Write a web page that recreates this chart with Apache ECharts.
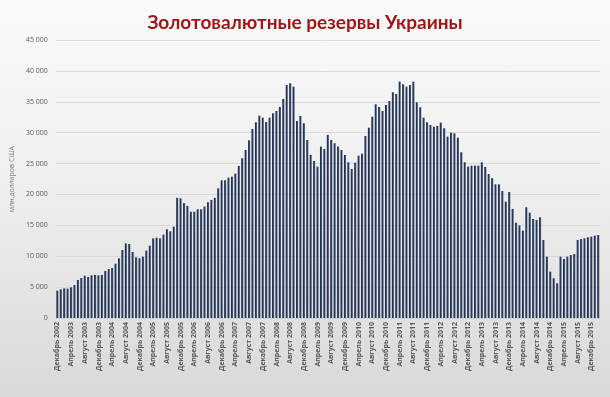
<!DOCTYPE html>
<html>
<head>
<meta charset="utf-8">
<script src="https://cdn.jsdelivr.net/npm/echarts@6/dist/echarts.min.js"></script>
<style>
  html, body { margin: 0; padding: 0; }
  #container {
    width: 610px; height: 397px;
    background: linear-gradient(to bottom, #fafafa 0%, #efefef 45%, #d9d9d9 100%);
  }
</style>
</head>
<body>
<div id="container"></div>
<script>
// месяцы для подписей категорий
var monthNames = ['Январь', 'Февраль', 'Март', 'Апрель', 'Май', 'Июнь',
                  'Июль', 'Август', 'Сентябрь', 'Октябрь', 'Ноябрь', 'Декабрь'];
var startYear = 2002;
var startMonth = 11; // декабрь 2002

// млн. долларов США, декабрь 2002 - февраль 2016
var reserves = [
    4420, 4640, 4800, 4750, 4970, 5340, 6150, 6480, 6850, 6640, 6910, 6960,
    6910, 6960, 7610, 7930, 8090, 8800, 9660, 11010, 12090, 11980, 10690, 9820,
    9660, 9930, 10900, 11700, 12900, 13000, 12900, 13500, 14360, 14030, 14780, 19450,
    19370, 18600, 18150, 17200, 17200, 17600, 17600, 18050, 18730, 19100, 19450, 20990,
    22290, 22290, 22720, 22880, 23370, 24610, 25850, 27200, 28770, 30600, 31680, 32750,
    32430, 31730, 32430, 33140, 33510, 34160, 35460, 37720, 38000, 37450, 31890, 32700,
    31520, 28820, 26390, 25420, 24500, 27740, 27360, 29630, 28820, 28280, 27740, 27200,
    26390, 25210, 24120, 25150, 26280, 26600, 29470, 30810, 32590, 34600, 34160, 33510,
    34480, 35130, 36540, 36270, 38260, 37830, 37450, 37720, 38260, 34920, 34110, 32430,
    31680, 31250, 30970, 31090, 31620, 30710, 29350, 30000, 29900, 29190, 26830, 25210,
    24500, 24660, 24660, 24660, 25210, 24450, 23310, 22640, 21640, 21640, 20560, 18830,
    20400, 17650, 15430, 15000, 14140, 17920, 17050, 16030, 15870, 16300, 12630, 9930,
    7500, 6430, 5620, 9930, 9550, 9930, 10200, 10360, 12630, 12790, 12900, 13060,
    13170, 13330, 13440
];

var categories = [];
for (var i = 0; i < reserves.length; i++) {
    var m = startMonth + i;
    categories.push(monthNames[m % 12] + ' ' + (startYear + Math.floor(m / 12)));
}

var chart = echarts.init(document.getElementById('container'), null, {renderer: 'canvas'});

var option = {
    animation: false,
    title: {
        text: 'Золотовалютные резервы Украины',
        left: 'center',
        top: 8,
        textStyle: {
            color: '#a31515',
            fontSize: 19,
            fontWeight: 'bold',
            fontFamily: 'Lato'
        }
    },
    grid: {
        left: 55,
        right: 10,
        top: 40,
        bottom: 79
    },
    xAxis: {
        type: 'category',
        data: categories,
        axisLine: { show: true, lineStyle: { color: '#d0d0d0' } },
        axisTick: { show: false },
        axisLabel: {
            interval: 3,
            rotate: 90,
            fontSize: 7,
            fontWeight: 'bold',
            color: '#595959',
            fontFamily: 'Open Sans',
            margin: 4
        }
    },
    yAxis: {
        type: 'value',
        min: 0,
        max: 45000,
        interval: 5000,
        name: 'млн.долларов США',
        nameLocation: 'middle',
        nameRotate: 90,
        nameGap: 38,
        nameTextStyle: { fontSize: 7, color: '#808080', fontFamily: 'Open Sans' },
        axisLine: { show: false },
        axisTick: { show: false },
        splitLine: { lineStyle: { color: '#d9d9d9', width: 1 } },
        axisLabel: {
            fontSize: 7,
            color: '#595959',
            fontFamily: 'Open Sans',
            margin: 8,
            formatter: function (v) {
                return String(v).replace(/\B(?=(\d{3})+(?!\d))/g, ' ');
            }
        }
    },
    series: [{
        type: 'bar',
        data: reserves,
        barCategoryGap: '38%',
        itemStyle: {
            color: new echarts.graphic.LinearGradient(0, 0, 1, 0, [
                { offset: 0, color: '#1b2a48' },
                { offset: 0.6, color: '#2c3d60' },
                { offset: 1, color: '#6d7e9c' }
            ])
        }
    }]
};

chart.setOption(option);
</script>
</body>
</html>
